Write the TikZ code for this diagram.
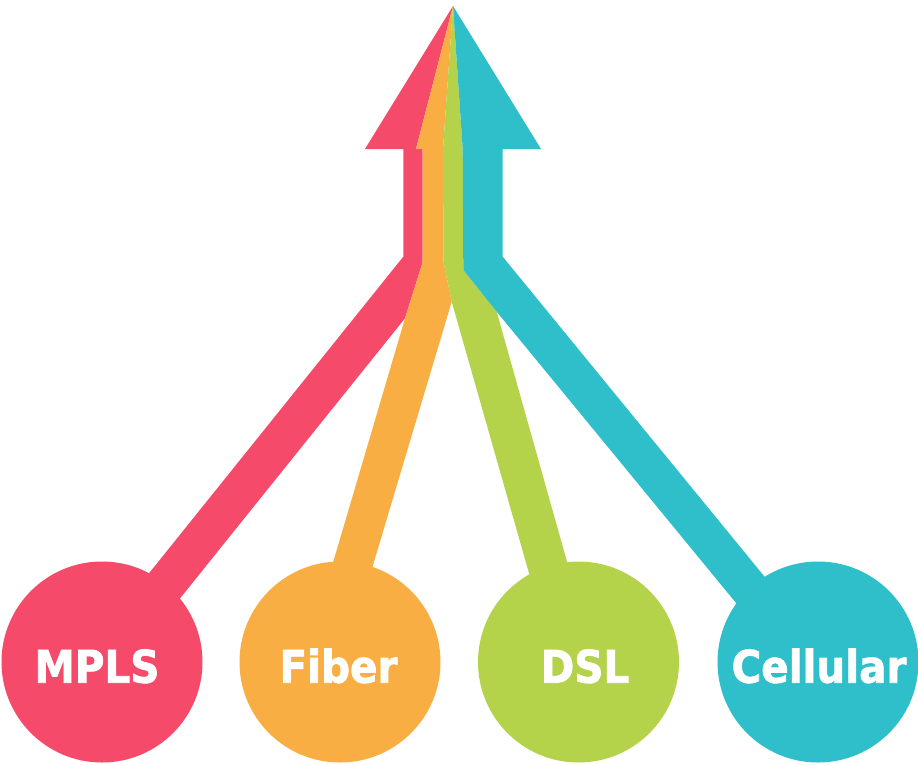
\documentclass[tikz,border=0pt]{standalone}
\usepackage{fontspec}
\newfontfamily\lblfamily{DejaVu Sans Condensed}[BoldFeatures={FakeBold=1.6}]
\definecolor{cRed}{HTML}{F54A6A}
\definecolor{cOrange}{HTML}{F8AE43}
\definecolor{cGreen}{HTML}{B5D24B}
\definecolor{cCyan}{HTML}{2EBFCB}
\begin{document}
\begin{tikzpicture}[x=1pt,y=-1pt,
  hub/.style={circle,minimum size=201pt,inner sep=0pt,draw=none},
  lbl/.style={text=white,anchor=base,inner sep=0pt,
    font=\lblfamily\bfseries\fontsize{45}{50}\selectfont}]
\useasboundingbox (0,0) rectangle (918,764);
\coordinate (T) at (453,6);
% red band
\fill[cRed] (T) -- (365,149) -- (403.3,149) -- (403.3,256.7) -- (95.4,640)
  -- (106.4,690) -- (405,318.3) -- (422.7,262) -- (422.7,149) -- (416,149) -- cycle;
% orange band
\fill[cOrange] (T) -- (416,149) -- (422.7,149) -- (422.7,262) -- (405,318.3)
  -- (316.1,620) -- (356.6,620) -- (451.7,301.7) -- (443.5,262) -- (443,149) -- cycle;
% green band
\fill[cGreen] (T) -- (443,149) -- (443.5,262) -- (451.7,301.7) -- (542.3,620)
  -- (583.4,620) -- (496.7,311.7) -- (463.3,270) -- (462.7,149) -- cycle;
% cyan band
\fill[cCyan] (T) -- (462.7,149) -- (463.3,270) -- (496.7,311.7) -- (774.7,650)
  -- (800,620) -- (502.7,256.7) -- (502.7,149) -- (541,149) -- cycle;
% hubs
\node[hub,fill=cRed] (mpls) at (102,662) {};
\node[hub,fill=cOrange] (fiber) at (340,662) {};
\node[hub,fill=cGreen] (dsl) at (578.5,662) {};
\node[hub,fill=cCyan] (cell) at (818,662) {};
\node[lbl] (tmpls) at (97,682.7) {MPLS};
\node[lbl] (tfiber) at (338.5,682.7) {Fiber};
\node[lbl] (tdsl) at (585,682.7) {DSL};
\node[lbl] (tcell) at (819,682.7) {Cellular};
\end{tikzpicture}
\end{document}
